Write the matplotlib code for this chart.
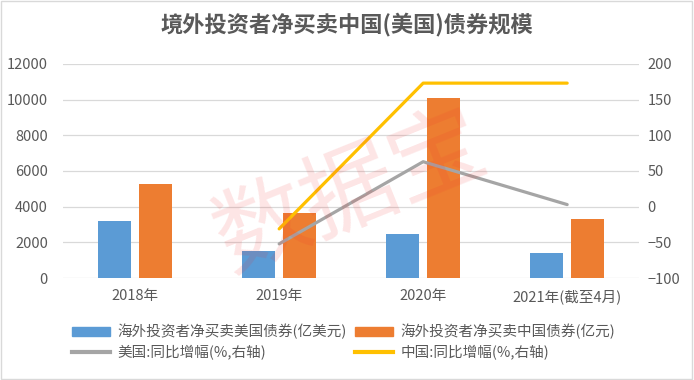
import matplotlib.pyplot as plt
import numpy as np
from matplotlib.patches import Patch, Rectangle
from matplotlib.lines import Line2D

plt.rcParams['font.family'] = ['Noto Sans CJK SC', 'DejaVu Sans']

# data
years = ['2018年', '2019年', '2020年', '2021年(截至4月)']
us_bonds = [3200, 1520, 2470, 1400]        # 亿美元
cn_bonds = [5280, 3650, 10060, 3310]       # 亿元
us_yoy_years = ['2019年', '2020年', '2021年(截至4月)']
us_yoy = [-52, 63, 3]
cn_yoy = [-31, 173, 173]

c_blue = '#5B9BD5'
c_orange = '#ED7D31'
c_gray = '#A5A5A5'
c_yellow = '#FFC000'
txt = '#595959'

fig = plt.figure(figsize=(6.94, 3.8), dpi=100)
ax = fig.add_axes([0.091, 0.268, 0.830, 0.564])
ax2 = ax.twinx()

x = np.arange(len(years))
w = 0.23
off = 0.142
ax.bar(x - off, us_bonds, w, color=c_blue, zorder=2)
ax.bar(x + off, cn_bonds, w, color=c_orange, zorder=2)

xl = [years.index(y) for y in us_yoy_years]
ax2.plot(xl, us_yoy, color=c_gray, lw=2.3, solid_capstyle='round')
ax2.plot(xl, cn_yoy, color=c_yellow, lw=2.3, solid_capstyle='round')

ax.set_xlim(-0.5, len(years) - 0.5)
ax.set_ylim(0, 12000)
ax.set_yticks(range(0, 12001, 2000))
ax2.set_ylim(-100, 200)
ax2.set_yticks(range(-100, 201, 50))
ax.set_xticks(x)
ax.set_xticklabels(years)
ax.grid(axis='y', color='#D9D9D9', lw=0.9, zorder=0)
ax.set_axisbelow(True)

for a in (ax, ax2):
    for s in a.spines.values():
        s.set_visible(False)
    a.tick_params(length=0, labelsize=10.5, colors=txt)
ax.tick_params(axis='y', pad=11)
ax.tick_params(axis='x', pad=8)
ax2.tick_params(axis='y', pad=6)

fig.text(0.5, 0.935, '境外投资者净买卖中国(美国)债券规模', ha='center', va='center',
         fontsize=16, fontweight='bold', color=txt)

handles = [Patch(color=c_blue), Line2D([], [], color=c_gray, lw=3),
           Patch(color=c_orange), Line2D([], [], color=c_yellow, lw=3)]
labels = ['海外投资者净买卖美国债券(亿美元)', '美国:同比增幅(%,右轴)',
          '海外投资者净买卖中国债券(亿元)', '中国:同比增幅(%,右轴)']
fig.legend(handles, labels, ncol=2, loc='center', bbox_to_anchor=(0.495, 0.1),
           frameon=False, fontsize=10.5, labelcolor=txt, handlelength=2.6,
           handleheight=0.55, columnspacing=0.6, handletextpad=0.5, labelspacing=0.35)

# watermark
fig.text(0.505, 0.49, '数据宝', fontsize=68, color='#F03030', alpha=0.13,
         rotation=22, ha='center', va='center', fontweight='light')

fig.add_artist(Rectangle((0.002, 0.003), 0.995, 0.994, transform=fig.transFigure,
                         fill=False, edgecolor='#D9D9D9', lw=1))

fig.savefig('out.png', dpi=100)
